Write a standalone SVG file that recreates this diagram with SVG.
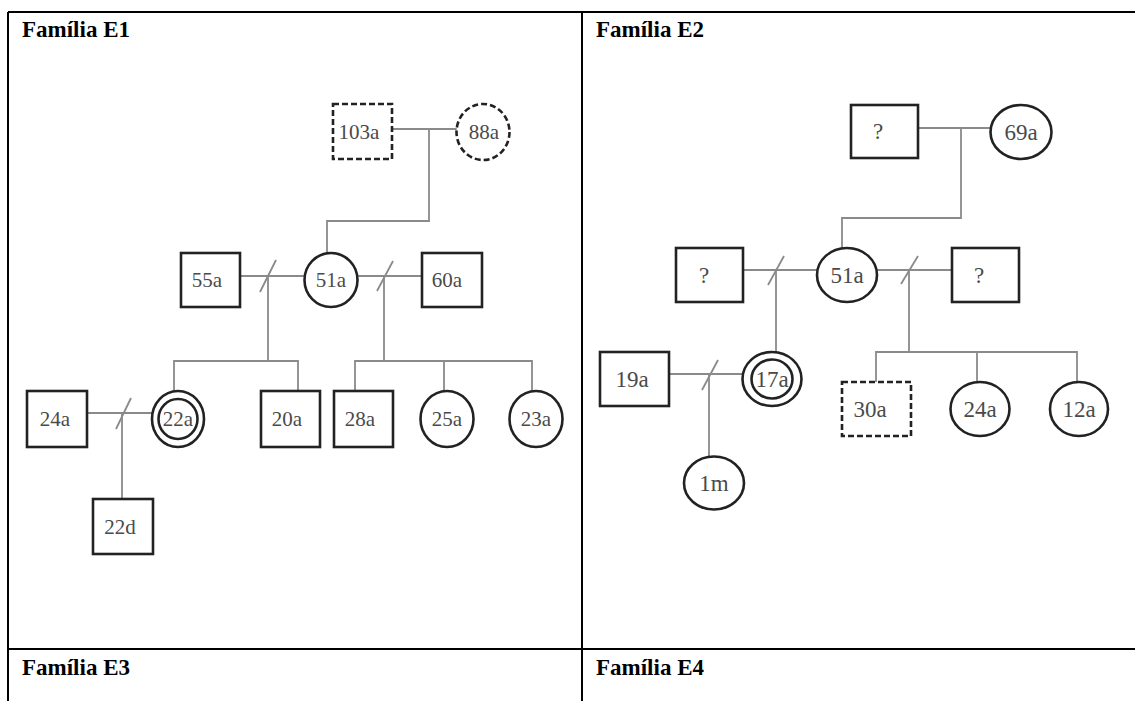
<svg xmlns="http://www.w3.org/2000/svg" width="1135" height="701" viewBox="0 0 1135 701">
<style>
.frame{stroke:#000;stroke-width:2;fill:none}
.title{font-family:'Liberation Serif','Times New Roman','DejaVu Serif',serif;font-weight:bold;font-size:23px;fill:#000}
.nd{fill:#fff;stroke:#222;stroke-width:2.6}
.dash{stroke-dasharray:6 3}
.lbl{font-family:'Liberation Serif','Times New Roman','DejaVu Serif',serif;font-size:21px;fill:#4a4a4a;text-anchor:middle}
.lbl2{font-family:'Liberation Serif','Times New Roman','DejaVu Serif',serif;font-size:23px;fill:#4a4a4a;text-anchor:middle}
.cn{stroke:#8a8a8a;stroke-width:1.8;fill:none}
</style>
<rect width="1135" height="701" fill="#fff"/>
<g id="table">
<line class="frame" x1="8" y1="12" x2="1135" y2="12"/>
<line class="frame" x1="8" y1="12" x2="8" y2="701"/>
<line class="frame" x1="582" y1="12" x2="582" y2="701"/>
<line class="frame" x1="8" y1="649" x2="1135" y2="649"/>
<text class="title" x="22" y="37">Família E1</text>
<text class="title" x="596" y="37">Família E2</text>
<text class="title" x="22" y="675">Família E3</text>
<text class="title" x="596" y="675">Família E4</text>
</g>
<g id="connectors">
<polyline class="cn" points="392,129 457,129"/>
<polyline class="cn" points="429,129 429,221 327,221 327,253"/>
<line class="cn" x1="240" y1="276" x2="305" y2="276"/>
<line class="cn" x1="260" y1="292" x2="276" y2="260"/>
<line class="cn" x1="268" y1="276" x2="268" y2="361"/>
<line class="cn" x1="357" y1="276" x2="422" y2="276"/>
<line class="cn" x1="377" y1="291" x2="393" y2="261"/>
<line class="cn" x1="384" y1="276" x2="384" y2="361"/>
<polyline class="cn" points="174,391 174,361 298,361 298,391"/>
<polyline class="cn" points="355,391 355,361 532,361 532,391"/>
<line class="cn" x1="444" y1="361" x2="444" y2="391"/>
<line class="cn" x1="87" y1="413" x2="152" y2="413"/>
<line class="cn" x1="116" y1="429" x2="131" y2="398"/>
<line class="cn" x1="122" y1="413" x2="122" y2="499"/>
<line class="cn" x1="918" y1="128" x2="991" y2="128"/>
<polyline class="cn" points="961,128 961,218 842,218 842,248"/>
<line class="cn" x1="743" y1="270" x2="817" y2="270"/>
<line class="cn" x1="768" y1="285" x2="784" y2="256"/>
<line class="cn" x1="776" y1="270" x2="776" y2="352"/>
<line class="cn" x1="877" y1="270" x2="952" y2="270"/>
<line class="cn" x1="901" y1="284" x2="918" y2="256"/>
<line class="cn" x1="909" y1="270" x2="909" y2="352"/>
<polyline class="cn" points="876,382 876,352 1077,352 1077,382"/>
<line class="cn" x1="977" y1="352" x2="977" y2="382"/>
<line class="cn" x1="669" y1="374" x2="743" y2="374"/>
<line class="cn" x1="702" y1="390" x2="718" y2="360"/>
<line class="cn" x1="709" y1="374" x2="709" y2="457"/>
</g>
<g id="e1-103a"><rect class="nd dash" x="333" y="104" width="59" height="55"/><text class="lbl" x="359" y="139">103a</text></g>
<g id="e1-88a"><ellipse class="nd dash" cx="483" cy="132" rx="26.5" ry="28"/><text class="lbl" x="484" y="139">88a</text></g>
<g id="e1-55a"><rect class="nd" x="181" y="253" width="59" height="54"/><text class="lbl" x="207" y="287">55a</text></g>
<g id="e1-51a"><ellipse class="nd" cx="331" cy="280" rx="26.5" ry="27"/><text class="lbl" x="331" y="287">51a</text></g>
<g id="e1-60a"><rect class="nd" x="422" y="253" width="60" height="54"/><text class="lbl" x="447" y="287">60a</text></g>
<g id="e1-24a"><rect class="nd" x="27" y="391" width="60" height="56"/><text class="lbl" x="55" y="426">24a</text></g>
<g id="e1-22a"><ellipse class="nd" cx="178" cy="419" rx="26" ry="28"/><ellipse class="nd" cx="178" cy="419" rx="19.5" ry="20"/><text class="lbl" x="178" y="426">22a</text></g>
<g id="e1-20a"><rect class="nd" x="261" y="391" width="59" height="56"/><text class="lbl" x="287" y="426">20a</text></g>
<g id="e1-28a"><rect class="nd" x="334" y="391" width="59" height="56"/><text class="lbl" x="360" y="426">28a</text></g>
<g id="e1-25a"><ellipse class="nd" cx="447" cy="419" rx="26.5" ry="28"/><text class="lbl" x="447" y="426">25a</text></g>
<g id="e1-23a"><ellipse class="nd" cx="536" cy="419" rx="26.5" ry="28"/><text class="lbl" x="536" y="426">23a</text></g>
<g id="e1-22d"><rect class="nd" x="93" y="499" width="60" height="55"/><text class="lbl" x="120" y="534">22d</text></g>
<g id="e2-q1"><rect class="nd" x="851" y="105" width="67" height="53"/><text class="lbl2" x="878" y="139">?</text></g>
<g id="e2-69a"><ellipse class="nd" cx="1021" cy="132" rx="30.5" ry="27"/><text class="lbl2" x="1021" y="140">69a</text></g>
<g id="e2-q2"><rect class="nd" x="676" y="248" width="67" height="54"/><text class="lbl2" x="704" y="283">?</text></g>
<g id="e2-51a"><ellipse class="nd" cx="847" cy="275" rx="30" ry="27"/><text class="lbl2" x="847" y="283">51a</text></g>
<g id="e2-q3"><rect class="nd" x="952" y="248" width="67" height="54"/><text class="lbl2" x="979" y="283">?</text></g>
<g id="e2-19a"><rect class="nd" x="600" y="352" width="69" height="54"/><text class="lbl2" x="632" y="387">19a</text></g>
<g id="e2-17a"><ellipse class="nd" cx="772" cy="379" rx="29.5" ry="27"/><ellipse class="nd" cx="772" cy="379" rx="20.5" ry="19.5"/><text class="lbl2" x="772" y="387">17a</text></g>
<g id="e2-1m"><ellipse class="nd" cx="714" cy="483" rx="30" ry="26.5"/><text class="lbl2" x="714" y="491">1m</text></g>
<g id="e2-30a"><rect class="nd dash" x="842" y="382" width="69" height="54"/><text class="lbl2" x="870" y="417">30a</text></g>
<g id="e2-24a"><ellipse class="nd" cx="980" cy="409" rx="29.5" ry="27"/><text class="lbl2" x="980" y="417">24a</text></g>
<g id="e2-12a"><ellipse class="nd" cx="1079" cy="409" rx="29" ry="27"/><text class="lbl2" x="1079" y="417">12a</text></g>
</svg>
